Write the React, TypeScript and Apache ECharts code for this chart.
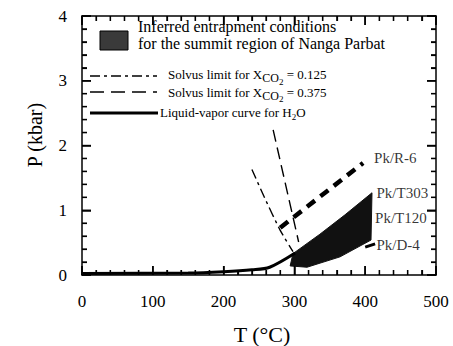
import React, { useEffect, useRef } from "react";
import * as echarts from "echarts";

// Axis ranges / ticks
const tempRange = [0, 500];
const tempInterval = 100;
const tempMinorStep = 20;
const pressRange = [0, 4];
const pressInterval = 1;
const pressMinorStep = 0.2;

// Curves [T (°C), P (kbar)]
const solvus0125 = [
  [240, 1.63],
  [258, 1.19],
  [280, 0.69],
  [298, 0.36],
];
const solvus0375 = [
  [270, 2.24],
  [306, 0.51],
];
const pkR6Line = [
  [280, 0.73],
  [397, 1.73],
];
const liquidVapor = [
  [0, 0.025],
  [150, 0.03],
  [200, 0.05],
  [240, 0.08],
  [265, 0.12],
  [301, 0.34],
];
const entrapmentRegion = [
  [298, 0.33],
  [336, 0.63],
  [371.5, 0.93],
  [409.6, 1.27],
  [408.2, 0.54],
  [364.4, 0.28],
  [317.8, 0.12],
  [294, 0.14],
];
const pkD4Leader = [
  [400, 0.43],
  [414, 0.48],
];
const sampleNames = ["Pk/R-6", "Pk/T303", "Pk/T120", "Pk/D-4"];
const sampleLabelPos = [
  [412.5, 1.81],
  [416, 1.27],
  [414, 0.88],
  [416, 0.46],
];

const SERIF = "Liberation Serif";

function makeAxis(position: string, min: number, max: number, interval: number, showLabel: boolean, labelMargin: number) {
  return {
    type: "value",
    position,
    min,
    max,
    interval,
    axisLine: { show: true, onZero: false, lineStyle: { color: "#000", width: 1.5 } },
    axisTick: { show: true, inside: true, length: 9, lineStyle: { color: "#000", width: 1.5 } },
    minorTick: { show: true, splitNumber: 5, length: 5, lineStyle: { color: "#000", width: 1.2 } },
    splitLine: { show: false },
    axisLabel: {
      show: showLabel,
      color: "#000",
      fontSize: 17,
      fontFamily: SERIF,
      margin: labelMargin,
    },
  };
}

// frame ticks on all four sides, positioned through the axes' own scales
function renderFrameTicks(params: any, api: any) {
  const children: any[] = [];
  const style = { stroke: "#000", lineWidth: 1.4 };
  const nx = Math.round((tempRange[1] - tempRange[0]) / tempMinorStep);
  for (let i = 0; i <= nx; i++) {
    const v = tempRange[0] + i * tempMinorStep;
    const len = Math.abs(v % tempInterval) < 1e-6 ? 9 : 5;
    const b = api.coord([v, pressRange[0]]);
    const t = api.coord([v, pressRange[1]]);
    children.push({ type: "line", shape: { x1: b[0], y1: b[1], x2: b[0], y2: b[1] - len }, style });
    children.push({ type: "line", shape: { x1: t[0], y1: t[1], x2: t[0], y2: t[1] + len }, style });
  }
  const ny = Math.round((pressRange[1] - pressRange[0]) / pressMinorStep);
  for (let i = 0; i <= ny; i++) {
    const v = pressRange[0] + i * pressMinorStep;
    const r = v / pressInterval;
    const len = Math.abs(r - Math.round(r)) < 1e-6 ? 9 : 5;
    const l = api.coord([tempRange[0], v]);
    const rr = api.coord([tempRange[1], v]);
    children.push({ type: "line", shape: { x1: l[0], y1: l[1], x2: l[0] + len, y2: l[1] }, style });
    children.push({ type: "line", shape: { x1: rr[0], y1: rr[1], x2: rr[0] - len, y2: rr[1] }, style });
  }
  return { type: "group", children };
}

export default function App() {
  const ref = useRef<HTMLDivElement>(null);

  useEffect(() => {
    if (!ref.current) return;
    const chart = echarts.init(ref.current, undefined, { renderer: "svg" });

    const option: any = {
      animation: false,
      backgroundColor: "#fff",
      grid: { left: 82, right: 17, top: 16, bottom: 71 },
      xAxis: [
        makeAxis("bottom", tempRange[0], tempRange[1], tempInterval, true, 18),
        makeAxis("top", tempRange[0], tempRange[1], tempInterval, false, 8),
      ],
      yAxis: [
        makeAxis("left", pressRange[0], pressRange[1], pressInterval, true, 15),
        makeAxis("right", pressRange[0], pressRange[1], pressInterval, false, 8),
      ],
      series: [
        {
          type: "custom",
          name: "frameTicks",
          renderItem: renderFrameTicks,
          data: [[0, 0]],
          silent: true,
          clip: false,
          z: 5,
        },
        {
          type: "custom",
          name: "region",
          renderItem: (params: any, api: any) => {
            const pts = entrapmentRegion.map((p) => api.coord(p));
            return {
              type: "polygon",
              shape: { points: pts },
              style: { fill: "#111", stroke: "#111", lineWidth: 1 },
            };
          },
          data: [[0, 0]],
          silent: true,
        },
        {
          type: "line",
          data: liquidVapor,
          showSymbol: false,
          smooth: 0.3,
          lineStyle: { color: "#000", width: 3 },
        },
        {
          type: "line",
          data: solvus0125,
          showSymbol: false,
          smooth: 0.2,
          lineStyle: { color: "#000", width: 1.4, type: [10, 4, 3, 4] },
        },
        {
          type: "line",
          data: solvus0375,
          showSymbol: false,
          lineStyle: { color: "#000", width: 1.4, type: [12, 6] },
        },
        {
          type: "line",
          data: pkR6Line,
          showSymbol: false,
          lineStyle: { color: "#000", width: 4.5, type: [10, 7] },
        },
        {
          type: "line",
          data: pkD4Leader,
          showSymbol: false,
          lineStyle: { color: "#000", width: 3 },
        },
        {
          type: "scatter",
          symbolSize: 0,
          data: sampleLabelPos.map((p, i) => ({ value: p, name: sampleNames[i] })),
          label: {
            show: true,
            position: "right",
            distance: 0,
            formatter: (p: any) => p.name,
            color: "#000",
            fontSize: 15,
            fontFamily: SERIF,
          },
        },
      ],
      graphic: [
        {
          type: "text",
          x: 35,
          y: 135,
          rotation: Math.PI / 2,
          style: {
            text: "P (kbar)",
            font: `20px ${SERIF}`,
            fill: "#000",
            align: "center",
            verticalAlign: "middle",
          },
        },
        {
          type: "text",
          x: 262,
          y: 334,
          style: {
            text: "T (°C)",
            font: `22px ${SERIF}`,
            fill: "#000",
            align: "center",
            verticalAlign: "middle",
          },
        },
        {
          type: "rect",
          shape: { x: 100, y: 31, width: 28, height: 19 },
          style: { fill: "#3a3a3a", stroke: "#000", lineWidth: 1 },
        },
        {
          type: "text",
          x: 138,
          y: 35,
          style: {
            text: "Inferred entrapment conditions\nfor the summit region of Nanga Parbat",
            font: `16px ${SERIF}`,
            fill: "#000",
            lineHeight: 17,
            verticalAlign: "middle",
          },
        },
        {
          type: "line",
          shape: { x1: 90, y1: 76, x2: 157, y2: 76 },
          style: { stroke: "#000", lineWidth: 1.4, lineDash: [10, 4, 3, 4] },
        },
        {
          type: "text",
          x: 168,
          y: 68,
          style: {
            text: "{n|Solvus limit for X}{s|CO}{t|2}{n| = 0.125}",
            fill: "#000",
            rich: {
              n: { fontSize: 13, fontFamily: SERIF, verticalAlign: "top" },
              s: { fontSize: 12, fontFamily: SERIF, verticalAlign: "top", padding: [4, 0, 0, 0] },
              t: { fontSize: 9, fontFamily: SERIF, verticalAlign: "top", padding: [9, 0, 0, 0] },
            },
          },
        },
        {
          type: "line",
          shape: { x1: 90, y1: 92, x2: 157, y2: 92 },
          style: { stroke: "#000", lineWidth: 1.4, lineDash: [14, 7] },
        },
        {
          type: "text",
          x: 168,
          y: 86,
          style: {
            text: "{n|Solvus limit for X}{s|CO}{t|2}{n| = 0.375}",
            fill: "#000",
            rich: {
              n: { fontSize: 13, fontFamily: SERIF, verticalAlign: "top" },
              s: { fontSize: 12, fontFamily: SERIF, verticalAlign: "top", padding: [4, 0, 0, 0] },
              t: { fontSize: 9, fontFamily: SERIF, verticalAlign: "top", padding: [8, 0, 0, 0] },
            },
          },
        },
        {
          type: "line",
          shape: { x1: 90, y1: 113, x2: 158, y2: 113 },
          style: { stroke: "#000", lineWidth: 3 },
        },
        {
          type: "text",
          x: 160,
          y: 106,
          style: {
            text: "{n|Liquid-vapor curve for H}{t|2}{n|O}",
            fill: "#000",
            rich: {
              n: { fontSize: 13, fontFamily: SERIF, verticalAlign: "top" },
              t: { fontSize: 9, fontFamily: SERIF, verticalAlign: "top", padding: [6, 0, 0, 0] },
            },
          },
        },
      ],
    };

    chart.setOption(option);
    return () => chart.dispose();
  }, []);

  return (
    <div
      ref={ref}
      style={{ position: "fixed", left: 0, top: 0, width: 453, height: 346, background: "#fff" }}
    />
  );
}
